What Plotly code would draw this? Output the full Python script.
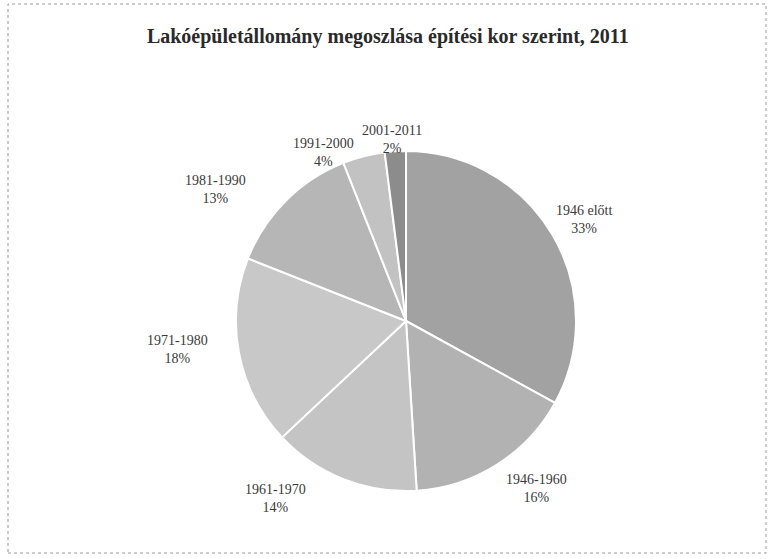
import math
import plotly.graph_objects as go

# Housing stock by construction period, 2011 (%)
periods = ["1946 előtt", "1946-1960", "1961-1970", "1971-1980", "1981-1990", "1991-2000", "2001-2011"]
shares = [33, 16, 14, 18, 13, 4, 2]
slice_colors = ["#a2a2a2", "#b2b2b2", "#c4c4c4", "#c8c8c8", "#b6b6b6", "#c2c2c2", "#8c8c8c"]

# label placement: distance from centre (in radii) and angular nudge (degrees)
label_dist = [1.204, 1.245, 1.292, 1.352, 1.358, 1.105, 1.068]
label_nudge = [1.0, -5.5, 14.7, 3.6, -10.4, -11.5, -0.8]

W, H = 768, 559
cx, cy, r = 406, 321, 170

fig = go.Figure(go.Pie(
    labels=periods,
    values=shares,
    sort=False,
    direction="clockwise",
    rotation=0,
    marker=dict(colors=slice_colors, line=dict(color="white", width=2)),
    textinfo="none",
    hoverinfo="label+percent",
    domain=dict(x=[(cx - r) / W, (cx + r) / W], y=[1 - (cy + r) / H, 1 - (cy - r) / H]),
    showlegend=False,
))

# outside labels at each slice's mid-angle (clockwise from 12 o'clock)
total = sum(shares)
annotations = []
cum = 0
for name, v, f, nudge in zip(periods, shares, label_dist, label_nudge):
    mid = (cum + v / 2) / total * 360 + nudge
    cum += v
    a = math.radians(mid)
    px = cx + f * r * math.sin(a)
    py = cy - f * r * math.cos(a)
    annotations.append(dict(
        x=px / W, y=1 - py / H, xref="paper", yref="paper",
        text=f"{name}<br>{round(v / total * 100)}%",
        showarrow=False, xanchor="center", yanchor="middle",
        font=dict(family="Liberation Serif", size=14, color="#3a3a3a"),
    ))

fig.update_layout(
    width=W, height=H,
    margin=dict(l=0, r=0, t=0, b=0),
    paper_bgcolor="white",
    plot_bgcolor="white",
    title=dict(
        text="<b>Lakóépületállomány megoszlása építési kor szerint, 2011</b>",
        x=0.505, xanchor="center", y=1 - 36 / H, yanchor="middle",
        font=dict(family="Liberation Serif", size=20, color="#2a2a2a"),
    ),
    annotations=annotations,
    shapes=[dict(
        type="rect", xref="paper", yref="paper",
        x0=8 / W, x1=1 - 2 / W, y0=1 - 553 / H, y1=1 - 4 / H,
        line=dict(color="#9a9a9a", width=1, dash="dot"),
        fillcolor="rgba(0,0,0,0)",
    )],
)

fig.write_html("out.html")
